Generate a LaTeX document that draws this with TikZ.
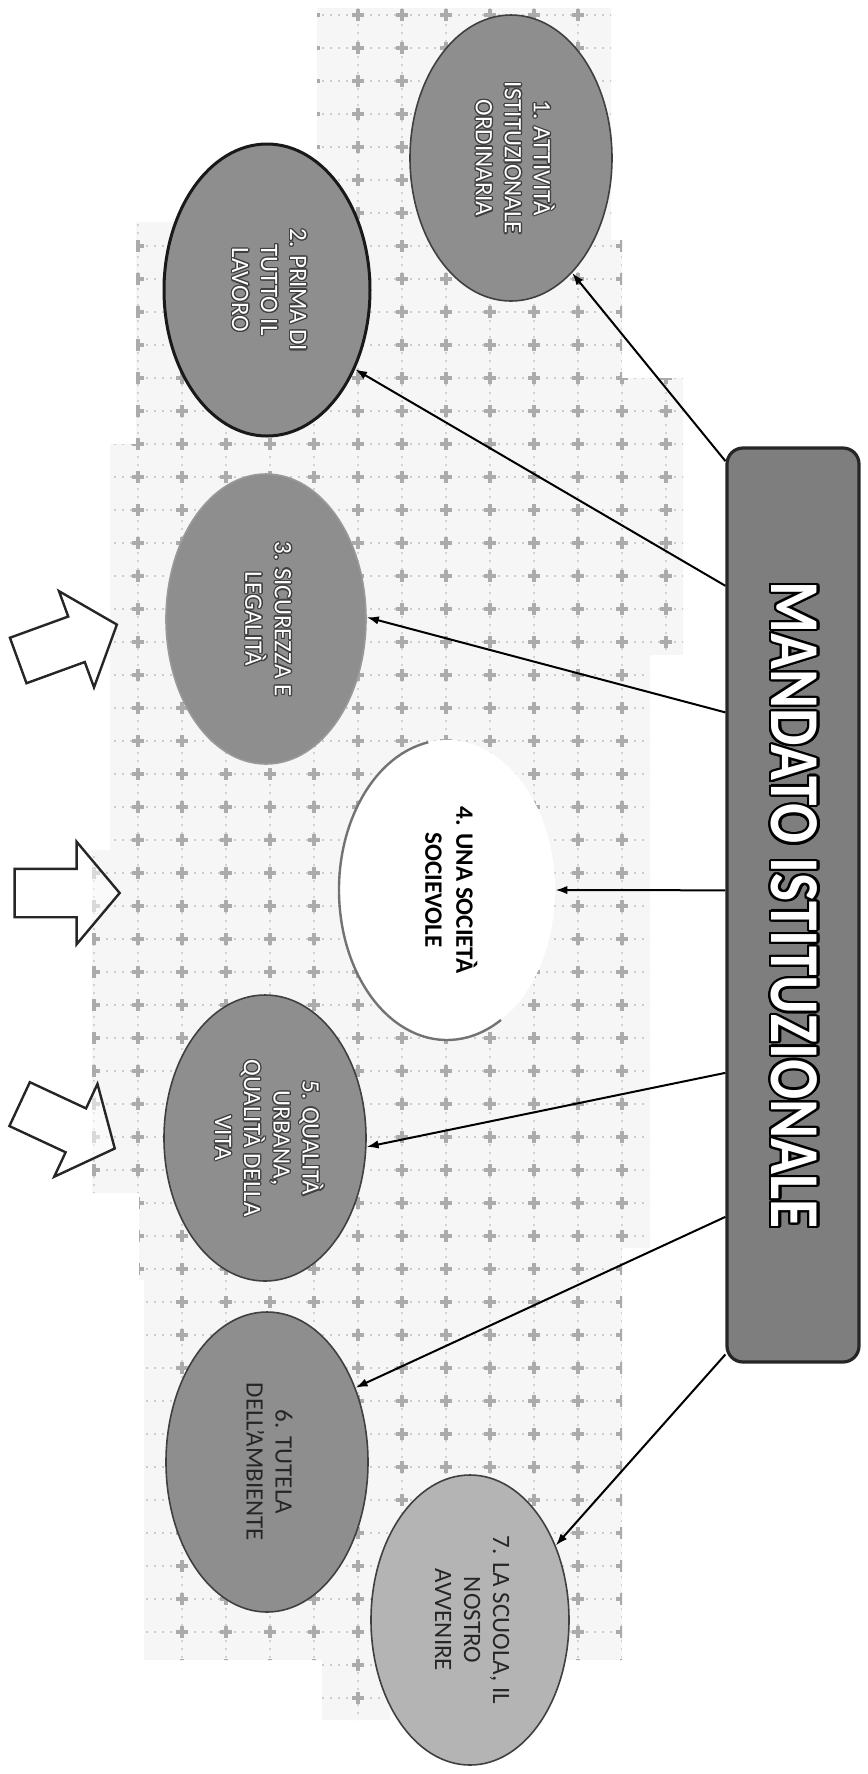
\documentclass[tikz,border=0pt]{standalone}
\usepackage{fontspec}
\setmainfont{Carlito}
\usepackage{graphicx}
\usepackage{contour}
\usetikzlibrary{shapes.geometric,shapes.arrows,arrows.meta,calc}
\contourlength{0.6pt}
\definecolor{ellgray}{HTML}{8E8E8E}
\definecolor{elllight}{HTML}{B4B4B4}
\definecolor{boxgray}{HTML}{7E7E7E}
\definecolor{markgray}{HTML}{ABABAB}
\newcommand{\olw}[1]{\contour{black!75}{#1}}
\newcommand{\bgpath}{(317,8) -- (611,8) -- (611,240) -- (622,240) -- (622,378) -- (683,378) -- (683,655) -- (650,655) -- (650,1248) -- (622,1248) -- (622,1660) -- (390,1660) -- (390,1720) -- (322,1720) -- (322,1660) -- (144,1660) -- (144,1280) -- (139,1280) -- (139,1193) -- (92,1193) -- (92,850) -- (110,850) -- (110,444) -- (136,444) -- (136,222) -- (317,222) -- cycle}
\begin{document}
\begin{tikzpicture}[x=0.5pt,y=-0.5pt,
  oval/.style={ellipse,draw=black!75,line width=0.8pt,fill=ellgray,inner sep=0pt,
    minimum width=101pt,minimum height=143pt,font=\fontsize{12.5}{14.5}\selectfont},
  conn/.style={line width=1pt,-{Latex[length=6pt,width=4.2pt]}},
  bigarrow/.style={single arrow,draw=black!85,line width=1.2pt,fill=white,fill opacity=0.55,
    minimum height=52.5pt,inner sep=0pt,inner ysep=11.5pt,single arrow head extend=13.5pt,
    single arrow tip angle=100}
]
\useasboundingbox (0,0) rectangle (868,1774);
% dotted background
\fill[gray!7] \bgpath;
\begin{scope}
\clip \bgpath;
\foreach \j in {0,...,52}{
  \draw[gray!40,line width=0.6pt,dash pattern=on 1pt off 3pt] (90,15+33*\j) -- (700,15+33*\j);
}
\foreach \i in {0,...,14}{
  \draw[gray!35,line width=0.6pt,dash pattern=on 1pt off 3pt] (94+44*\i,0) -- (94+44*\i,1774);
  \foreach \j in {0,...,52}{
    \draw[markgray,line width=2pt] (94+44*\i-6,15+33*\j) -- ++(12,0) (94+44*\i,15+33*\j-6) -- ++(0,12);
  }
}
\end{scope}

% central box
\node[rectangle,rounded corners=8pt,draw=black!85,line width=1.6pt,fill=boxgray,
  minimum width=66pt,minimum height=457pt,inner sep=0pt] (box) at (793,905)
  {\rotatebox{-90}{\scalebox{0.85}[1]{\fontsize{35}{40}\selectfont\bfseries\contourlength{1.3pt}\contour{black}{\textcolor{white}{MANDATO ISTITUZIONALE}}}}};

% ellipses
\node[oval,text=white] (e1) at (511,158)
  {\rotatebox{-90}{\begin{tabular}{@{}c@{}}\olw{1. ATTIVITÀ}\\\olw{ISTITUZIONALE}\\\olw{ORDINARIA}\end{tabular}}};
\node[oval,text=white,draw=black!90,line width=1.5pt,minimum width=103pt,minimum height=146pt] (e2) at (267,290)
  {\rotatebox{-90}{\begin{tabular}{@{}c@{}}\olw{2. PRIMA DI}\\\olw{TUTTO IL}\\\olw{LAVORO}\end{tabular}}};
\node[oval,text=white,draw=black!40,minimum width=100pt,minimum height=145pt] (e3) at (266,619)
  {\rotatebox{-90}{\begin{tabular}{@{}c@{}}\olw{3. SICUREZZA E}\\\olw{LEGALITÀ}\end{tabular}}};
\node[ellipse,fill=white,inner sep=0pt,minimum width=108pt,minimum height=150pt,
  font=\fontsize{12.5}{15.5}\selectfont\bfseries] (e4) at (447,890)
  {\rotatebox{-90}{\begin{tabular}{@{}c@{}}4. UNA SOCIETÀ\\SOCIEVOLE\end{tabular}}};
\draw[black!55,line width=1.2pt] ($(e4.center)+(100:54pt and 75pt)$) arc[start angle=100,end angle=300,x radius=54pt,y radius=75pt];
\node[oval,text=white] (e5) at (265,1138)
  {\rotatebox{-90}{\begin{tabular}{@{}c@{}}\olw{5. QUALITÀ}\\\olw{URBANA,}\\\olw{QUALITÀ DELLA}\\\olw{VITA}\end{tabular}}};
\node[oval,text=black!85,minimum height=150pt] (e6) at (267,1462)
  {\rotatebox{-90}{\begin{tabular}{@{}c@{}}6. TUTELA\\DELL’AMBIENTE\end{tabular}}};
\node[oval,text=black!85,fill=elllight,minimum width=99pt,minimum height=145pt] (e7) at (470,1620)
  {\rotatebox{-90}{\begin{tabular}{@{}c@{}}7. LA SCUOLA, IL\\NOSTRO\\AVVENIRE\end{tabular}}};

% connectors
\draw[conn] ($(box.north west)!0.016!(box.south west)$) -- (e1.-62);
\draw[conn] ($(box.north west)!0.152!(box.south west)$) -- (e2.-42);
\draw[conn] ($(box.north west)!0.29!(box.south west)$) -- (e3.1);
\draw[conn] ($(box.north west)!0.484!(box.south west)$) -- (e4.east);
\draw[conn] ($(box.north west)!0.683!(box.south west)$) -- (e5.-5);
\draw[conn] ($(box.north west)!0.84!(box.south west)$) -- (e6.40);
\draw[conn] ($(box.north west)!0.99!(box.south west)$) -- (e7.41);

% block arrows
\node[bigarrow,rotate=20] (ba1) at (58,646) {};
\node[bigarrow] (ba2) at (57,893) {};
\node[bigarrow,rotate=-25] (ba3) at (58,1122) {};
\end{tikzpicture}
\end{document}
